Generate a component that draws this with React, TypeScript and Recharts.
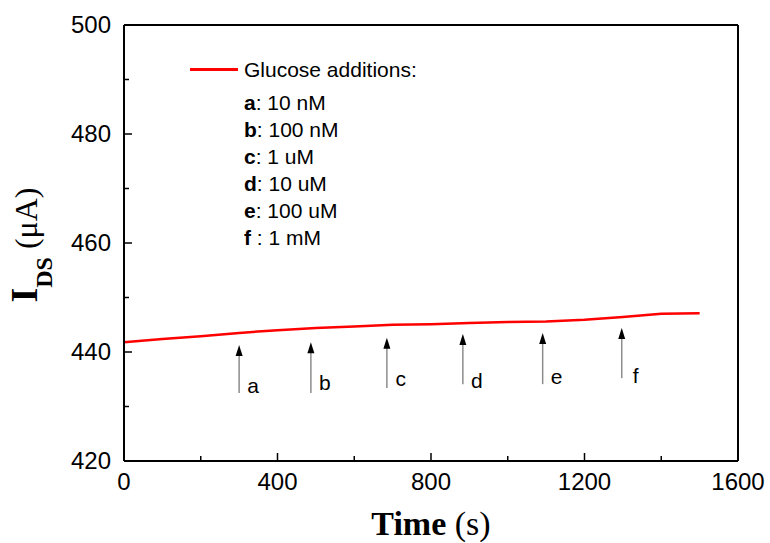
import React from 'react';
import { LineChart, Line, XAxis, YAxis, ReferenceLine, ReferenceDot, Legend } from 'recharts';

const timeSeconds = [0, 100, 200, 300, 400, 500, 600, 700, 800, 900, 1000, 1100, 1200, 1300, 1400, 1500];
const currentMicroA = [441.8, 442.4, 442.9, 443.5, 444.0, 444.4, 444.7, 445.0, 445.1, 445.3, 445.5, 445.6, 445.9, 446.4, 447.0, 447.1];

const xTicks = [0, 200, 400, 600, 800, 1000, 1200, 1400, 1600];
const xLabelTicks = [0, 400, 800, 1200, 1600];
const yTicks = [420, 430, 440, 450, 460, 470, 480, 490, 500];
const yLabelTicks = [420, 440, 460, 480, 500];

const additionTimes = [300, 487, 685, 883, 1091, 1297];
const arrowTips = [441.3, 441.8, 442.6, 443.3, 443.5, 444.4];
const arrowBases = [432.5, 432.5, 433.4, 434.1, 434.1, 435.2];
const additionLetters = ['a', 'b', 'c', 'd', 'e', 'f'];
const additionLabelY = [433.8, 434.3, 435.2, 434.7, 435.4, 435.6];
const additionSeparators = [': ', ': ', ': ', ': ', ': ', ' : '];
const additionConcentrations = ['10 nM', '100 nM', '1 uM', '10 uM', '100 uM', '1 mM'];
const legendTitle = 'Glucose additions:';

const data = timeSeconds.map((t, i) => ({ t, current: currentMicroA[i] }));

const SANS = '"Liberation Sans", Arial, sans-serif';
const SERIF = '"Liberation Serif", "Times New Roman", serif';

const XTick = (props: any) => {
  const { x, y, payload } = props;
  const v = payload.value;
  const major = xLabelTicks.includes(v);
  return (
    <g>
      <line x1={x} x2={x} y1={y} y2={y - (major ? 8 : 5)} stroke="#000" strokeWidth={1.5} />
      {major && (
        <text x={x} y={y + 29} textAnchor="middle" fontFamily={SANS} fontSize={24} fill="#000">
          {v}
        </text>
      )}
    </g>
  );
};

const YTick = (props: any) => {
  const { x, y, payload } = props;
  const v = payload.value;
  const major = yLabelTicks.includes(v);
  return (
    <g>
      <line x1={x} x2={x + (major ? 8 : 5)} y1={y} y2={y} stroke="#000" strokeWidth={1.5} />
      {major && (
        <text x={x - 13} y={y} dy="0.35em" textAnchor="end" fontFamily={SANS} fontSize={24} fill="#000">
          {v}
        </text>
      )}
    </g>
  );
};

const XTitle = (props: any) => {
  const vb = props.viewBox || { x: 124, y: 461, width: 614, height: 82 };
  const cx = vb.x + vb.width / 2;
  return (
    <text x={cx} y={vb.y + 74} textAnchor="middle" fontFamily={SERIF} fontSize={34} fill="#000">
      <tspan fontWeight="bold">Time</tspan>
      <tspan> (s)</tspan>
    </text>
  );
};

const YTitle = (props: any) => {
  const vb = props.viewBox || { x: 0, y: 25, width: 124, height: 436 };
  const bx = vb.x + 37;
  const cy = vb.y + vb.height / 2 + 2;
  return (
    <text
      x={bx}
      y={cy}
      transform={`rotate(-90, ${bx}, ${cy})`}
      textAnchor="middle"
      fontFamily={SERIF}
      fill="#000"
    >
      <tspan fontWeight="bold" fontSize={38}>I</tspan>
      <tspan fontWeight="bold" fontSize={24} dy={15}>DS</tspan>
      <tspan fontSize={32} dy={-15}>{'  (\u03bcA)'}</tspan>
    </text>
  );
};

const ArrowShape = (props: any) => {
  const { x1, y1, x2, y2 } = props;
  return (
    <g>
      <line x1={x1} y1={y1} x2={x2} y2={y2 + 9} stroke="#8c8c8c" strokeWidth={1.5} />
      <polygon points={`${x2},${y2} ${x2 - 3.5},${y2 + 11} ${x2 + 3.5},${y2 + 11}`} fill="#000" />
    </g>
  );
};

const makeLetter = (letter: string) => (props: any) => (
  <text x={props.cx + 14} y={props.cy} dy="0.35em" textAnchor="middle" fontFamily={SANS} fontSize={21} fill="#000">
    {letter}
  </text>
);

const LegendBox = () => (
  <div style={{ fontFamily: SANS, fontSize: 21, color: '#000', whiteSpace: 'nowrap', lineHeight: '27px' }}>
    <div style={{ display: 'flex', alignItems: 'center', height: 27 }}>
      <span style={{ display: 'inline-block', width: 48, height: 3, background: '#ff0000', marginRight: 6 }} />
      <span>{legendTitle}</span>
    </div>
    <div style={{ marginLeft: 54, marginTop: 6 }}>
      {additionLetters.map((l, i) => (
        <div key={l} style={{ height: 27 }}>
          <b>{l}</b>
          {additionSeparators[i]}
          {additionConcentrations[i]}
        </div>
      ))}
    </div>
  </div>
);

export default function App() {
  return (
    <div style={{ position: 'absolute', left: 0, top: 0, width: 770, height: 543, background: '#fff' }}>
      <LineChart width={770} height={543} data={data} margin={{ top: 25, right: 32, left: 0, bottom: 0 }}>
        <XAxis
          dataKey="t"
          type="number"
          domain={[0, 1600]}
          ticks={xTicks}
          interval={0}
          height={82}
          tickSize={0}
          tickMargin={0}
          tickLine={false}
          axisLine={{ stroke: '#000', strokeWidth: 2 }}
          tick={<XTick />}
          label={{ content: <XTitle /> }}
        />
        <YAxis
          type="number"
          domain={[420, 500]}
          ticks={yTicks}
          interval={0}
          width={124}
          tickSize={0}
          tickMargin={0}
          tickLine={false}
          axisLine={{ stroke: '#000', strokeWidth: 2 }}
          tick={<YTick />}
          label={{ content: <YTitle /> }}
        />
        <ReferenceLine y={500} stroke="#000" strokeWidth={2} />
        <ReferenceLine x={1600} stroke="#000" strokeWidth={2} />
        {additionTimes.map((t, i) => (
          <ReferenceLine
            key={`arrow-${i}`}
            segment={[{ x: t, y: arrowBases[i] }, { x: t, y: arrowTips[i] }]}
            shape={ArrowShape}
          />
        ))}
        {additionTimes.map((t, i) => (
          <ReferenceDot
            key={`lbl-${i}`}
            x={t}
            y={additionLabelY[i]}
            r={0}
            shape={makeLetter(additionLetters[i])}
          />
        ))}
        <Line
          type="linear"
          dataKey="current"
          stroke="#ff0000"
          strokeWidth={2.5}
          dot={false}
          isAnimationActive={false}
        />
        <Legend
          layout="vertical"
          align="center"
          verticalAlign="middle"
          wrapperStyle={{ left: 190, top: 56, width: 'auto' }}
          content={() => <LegendBox />}
        />
      </LineChart>
    </div>
  );
}
